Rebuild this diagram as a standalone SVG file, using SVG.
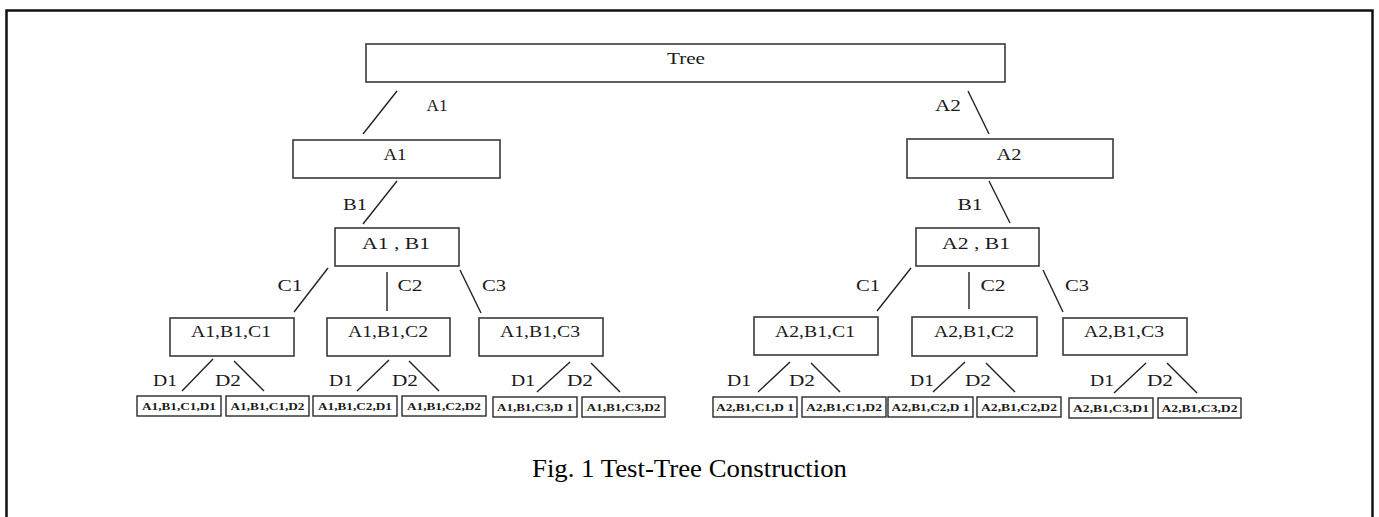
<svg xmlns="http://www.w3.org/2000/svg" width="1379" height="517" viewBox="0 0 1379 517">
<style>
.frame{fill:none;stroke:#111;stroke-width:2.5}
.box{fill:#fff;stroke:#3a3a3a;stroke-width:1.6}
.leaf{fill:#fff;stroke:#2a2a2a;stroke-width:1.4}
.edge{stroke:#222;stroke-width:1.4;fill:none}
.t{font-family:"Liberation Serif","Times New Roman",serif;font-size:16px;fill:#1a1a1a;text-anchor:middle}
.lt{font-family:"Liberation Serif","Times New Roman",serif;font-size:9.5px;font-weight:bold;fill:#1a1a1a;text-anchor:middle}
.lbl{font-family:"Liberation Serif","Times New Roman",serif;font-size:16px;fill:#1a1a1a;text-anchor:middle}
.cap{font-family:"Liberation Serif","Times New Roman",serif;font-size:26px;fill:#000;text-anchor:middle}
</style>
<rect x="0" y="0" width="1379" height="517" fill="#fff"/>
<rect class="frame" x="6.5" y="10.5" width="1366" height="520"/>

<g id="connectors">
<line class="edge" x1="397" y1="91" x2="363" y2="134"/>
<line class="edge" x1="968" y1="91" x2="989" y2="134"/>
<line class="edge" x1="397" y1="181" x2="363" y2="224"/>
<line class="edge" x1="989" y1="181" x2="1010" y2="223"/>
<line class="edge" x1="328" y1="268" x2="294" y2="312"/>
<line class="edge" x1="387" y1="272" x2="387" y2="311"/>
<line class="edge" x1="460" y1="270" x2="481" y2="313"/>
<line class="edge" x1="911" y1="268" x2="877" y2="311"/>
<line class="edge" x1="969" y1="272" x2="969" y2="309"/>
<line class="edge" x1="1043" y1="270" x2="1063" y2="312"/>
<line class="edge" x1="213" y1="359" x2="182" y2="391"/>
<line class="edge" x1="234" y1="361" x2="264" y2="391"/>
<line class="edge" x1="389" y1="360" x2="357" y2="391"/>
<line class="edge" x1="409" y1="361" x2="439" y2="391"/>
<line class="edge" x1="570" y1="362" x2="537" y2="392"/>
<line class="edge" x1="591" y1="363" x2="620" y2="392"/>
<line class="edge" x1="790" y1="362" x2="758" y2="392"/>
<line class="edge" x1="811" y1="363" x2="840" y2="392"/>
<line class="edge" x1="965" y1="362" x2="933" y2="392"/>
<line class="edge" x1="986" y1="363" x2="1015" y2="392"/>
<line class="edge" x1="1146" y1="363" x2="1114" y2="393"/>
<line class="edge" x1="1167" y1="363" x2="1197" y2="393"/>
<text class="lbl" x="437" y="111" textLength="21" lengthAdjust="spacingAndGlyphs">A1</text>
<text class="lbl" x="948" y="111" textLength="26" lengthAdjust="spacingAndGlyphs">A2</text>
<text class="lbl" x="355" y="210" textLength="24" lengthAdjust="spacingAndGlyphs">B1</text>
<text class="lbl" x="970" y="210" textLength="25" lengthAdjust="spacingAndGlyphs">B1</text>
<text class="lbl" x="290" y="291" textLength="25" lengthAdjust="spacingAndGlyphs">C1</text>
<text class="lbl" x="410" y="291" textLength="25" lengthAdjust="spacingAndGlyphs">C2</text>
<text class="lbl" x="494" y="291" textLength="24" lengthAdjust="spacingAndGlyphs">C3</text>
<text class="lbl" x="868" y="291" textLength="24" lengthAdjust="spacingAndGlyphs">C1</text>
<text class="lbl" x="993" y="291" textLength="25" lengthAdjust="spacingAndGlyphs">C2</text>
<text class="lbl" x="1077" y="291" textLength="24" lengthAdjust="spacingAndGlyphs">C3</text>
<text class="lbl" x="165" y="386" textLength="24" lengthAdjust="spacingAndGlyphs">D1</text>
<text class="lbl" x="228" y="386" textLength="26" lengthAdjust="spacingAndGlyphs">D2</text>
<text class="lbl" x="341" y="386" textLength="24" lengthAdjust="spacingAndGlyphs">D1</text>
<text class="lbl" x="405" y="386" textLength="26" lengthAdjust="spacingAndGlyphs">D2</text>
<text class="lbl" x="523" y="386" textLength="24" lengthAdjust="spacingAndGlyphs">D1</text>
<text class="lbl" x="580" y="386" textLength="26" lengthAdjust="spacingAndGlyphs">D2</text>
<text class="lbl" x="739" y="386" textLength="24" lengthAdjust="spacingAndGlyphs">D1</text>
<text class="lbl" x="802" y="386" textLength="26" lengthAdjust="spacingAndGlyphs">D2</text>
<text class="lbl" x="922" y="386" textLength="24" lengthAdjust="spacingAndGlyphs">D1</text>
<text class="lbl" x="978" y="386" textLength="26" lengthAdjust="spacingAndGlyphs">D2</text>
<text class="lbl" x="1102" y="386" textLength="24" lengthAdjust="spacingAndGlyphs">D1</text>
<text class="lbl" x="1160" y="386" textLength="26" lengthAdjust="spacingAndGlyphs">D2</text>
</g>

<g id="n-tree"><rect class="box" x="366" y="44" width="639" height="38"/><text class="t" x="686" y="64" textLength="38" lengthAdjust="spacingAndGlyphs">Tree</text></g>
<g id="n-a1"><rect class="box" x="293" y="140" width="207" height="38"/><text class="t" x="395" y="160" textLength="23" lengthAdjust="spacingAndGlyphs">A1</text></g>
<g id="n-a2"><rect class="box" x="907" y="139" width="206" height="39"/><text class="t" x="1009" y="160" textLength="25" lengthAdjust="spacingAndGlyphs">A2</text></g>
<g id="n-a1b1"><rect class="box" x="335" y="228" width="124" height="38"/><text class="t" x="396" y="249" textLength="68" lengthAdjust="spacingAndGlyphs">A1 , B1</text></g>
<g id="n-a2b1"><rect class="box" x="916" y="228" width="123" height="38"/><text class="t" x="976" y="249" textLength="68" lengthAdjust="spacingAndGlyphs">A2 , B1</text></g>

<g id="n-a1b1c1"><rect class="box" x="170" y="318" width="124" height="38"/><text class="t" x="231" y="337" textLength="80" lengthAdjust="spacingAndGlyphs">A1,B1,C1</text></g>
<g id="n-a1b1c2"><rect class="box" x="327" y="318" width="123" height="38"/><text class="t" x="388" y="337" textLength="80" lengthAdjust="spacingAndGlyphs">A1,B1,C2</text></g>
<g id="n-a1b1c3"><rect class="box" x="479" y="318" width="124" height="38"/><text class="t" x="540" y="337" textLength="80" lengthAdjust="spacingAndGlyphs">A1,B1,C3</text></g>
<g id="n-a2b1c1"><rect class="box" x="754" y="317" width="124" height="38"/><text class="t" x="815" y="337" textLength="80" lengthAdjust="spacingAndGlyphs">A2,B1,C1</text></g>
<g id="n-a2b1c2"><rect class="box" x="912" y="317" width="125" height="39"/><text class="t" x="974" y="337" textLength="80" lengthAdjust="spacingAndGlyphs">A2,B1,C2</text></g>
<g id="n-a2b1c3"><rect class="box" x="1063" y="318" width="124" height="37"/><text class="t" x="1124" y="337" textLength="80" lengthAdjust="spacingAndGlyphs">A2,B1,C3</text></g>

<g id="l1"><rect class="leaf" x="137" y="396" width="84" height="20"/><text class="lt" x="179" y="410" textLength="74" lengthAdjust="spacingAndGlyphs">A1,B1,C1,D1</text></g>
<g id="l2"><rect class="leaf" x="226" y="396" width="83" height="20"/><text class="lt" x="267.5" y="410" textLength="74" lengthAdjust="spacingAndGlyphs">A1,B1,C1,D2</text></g>
<g id="l3"><rect class="leaf" x="313" y="396" width="84" height="20"/><text class="lt" x="355" y="410" textLength="74" lengthAdjust="spacingAndGlyphs">A1,B1,C2,D1</text></g>
<g id="l4"><rect class="leaf" x="402" y="396" width="84" height="20"/><text class="lt" x="444" y="410" textLength="74" lengthAdjust="spacingAndGlyphs">A1,B1,C2,D2</text></g>
<g id="l5"><rect class="leaf" x="493" y="397" width="84" height="20"/><text class="lt" x="535" y="411" textLength="76" lengthAdjust="spacingAndGlyphs">A1,B1,C3,D 1</text></g>
<g id="l6"><rect class="leaf" x="582" y="397" width="83" height="20"/><text class="lt" x="623.5" y="411" textLength="74" lengthAdjust="spacingAndGlyphs">A1,B1,C3,D2</text></g>
<g id="l7"><rect class="leaf" x="713" y="397" width="84" height="20"/><text class="lt" x="755" y="411" textLength="78" lengthAdjust="spacingAndGlyphs">A2,B1,C1,D 1</text></g>
<g id="l8"><rect class="leaf" x="802" y="397" width="84" height="20"/><text class="lt" x="844" y="411" textLength="76" lengthAdjust="spacingAndGlyphs">A2,B1,C1,D2</text></g>
<g id="l9"><rect class="leaf" x="888" y="397" width="85" height="20"/><text class="lt" x="930.5" y="411" textLength="78" lengthAdjust="spacingAndGlyphs">A2,B1,C2,D 1</text></g>
<g id="l10"><rect class="leaf" x="977" y="397" width="84" height="20"/><text class="lt" x="1019" y="411" textLength="76" lengthAdjust="spacingAndGlyphs">A2,B1,C2,D2</text></g>
<g id="l11"><rect class="leaf" x="1069" y="398" width="84" height="20"/><text class="lt" x="1111" y="412" textLength="76" lengthAdjust="spacingAndGlyphs">A2,B1,C3,D1</text></g>
<g id="l12"><rect class="leaf" x="1158" y="398" width="83" height="20"/><text class="lt" x="1199.5" y="412" textLength="76" lengthAdjust="spacingAndGlyphs">A2,B1,C3,D2</text></g>

<text class="cap" x="689.5" y="477" textLength="315" lengthAdjust="spacingAndGlyphs">Fig. 1 Test-Tree Construction</text>
</svg>
